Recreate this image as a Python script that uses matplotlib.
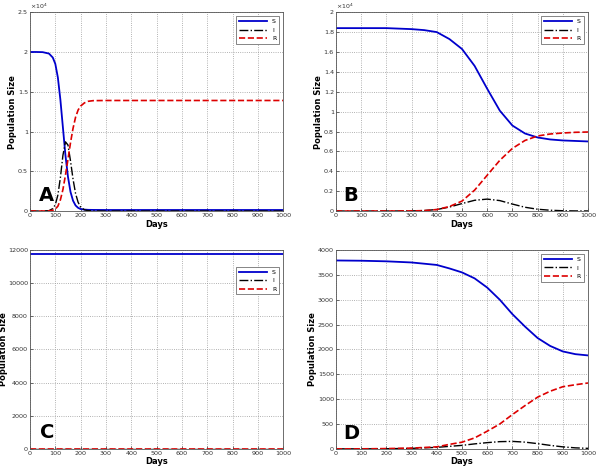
import matplotlib
matplotlib.use("Agg")
import matplotlib.pyplot as plt
from matplotlib.ticker import FuncFormatter, MultipleLocator

# panel A
days_a = [0, 25, 50, 75, 90, 100, 110, 120, 130, 140, 150, 160, 170, 180, 190, 200,
          215, 230, 250, 300, 400, 500, 600, 700, 800, 900, 1000]
s_a = [20000, 20000, 19980, 19800, 19300, 18500, 16800, 14000, 10500, 7000, 4300, 2400,
       1300, 700, 400, 250, 180, 150, 140, 130, 130, 130, 130, 130, 130, 130, 130]
i_a = [0, 0, 0, 50, 300, 800, 2000, 4200, 7000, 8700, 8300, 6300, 4000, 2200, 1100, 500,
       150, 50, 10, 0, 0, 0, 0, 0, 0, 0, 0]
r_a = [0, 0, 0, 20, 100, 250, 600, 1400, 2700, 4500, 6500, 8600, 10400, 11800, 12700,
       13200, 13600, 13800, 13880, 13900, 13900, 13900, 13900, 13900, 13900, 13900, 13900]

# panel B
days_b = [0, 100, 200, 300, 350, 400, 450, 500, 550, 600, 650, 700, 750, 800, 850, 900, 950, 1000]
s_b = [18400, 18400, 18400, 18300, 18200, 18000, 17300, 16300, 14600, 12300, 10100, 8600,
       7800, 7400, 7200, 7100, 7050, 7000]
i_b = [0, 0, 0, 10, 50, 150, 400, 750, 1080, 1200, 1050, 700, 380, 180, 80, 30, 10, 5]
r_b = [0, 0, 0, 10, 40, 150, 450, 1000, 2100, 3600, 5100, 6300, 7100, 7550, 7750, 7850, 7920, 7950]

# panel C
days_c = [0, 250, 500, 750, 1000]
s_c = [11750, 11750, 11750, 11750, 11750]
i_c = [0, 0, 0, 0, 0]
r_c = [0, 0, 0, 0, 0]

# panel D
days_d = [0, 100, 200, 300, 400, 450, 500, 550, 600, 650, 700, 750, 800, 850, 900, 950, 1000]
s_d = [3790, 3785, 3773, 3750, 3700, 3630, 3550, 3430, 3245, 3000, 2710, 2460, 2230, 2070,
       1960, 1905, 1880]
i_d = [0, 0, 2, 10, 30, 50, 70, 100, 125, 145, 150, 135, 105, 70, 40, 20, 10]
r_d = [0, 0, 5, 15, 40, 90, 134, 220, 355, 500, 690, 870, 1040, 1160, 1250, 1290, 1325]

panels = [
    ("A", days_a, s_a, i_a, r_a, 25000, 5000, True, (66, 2000), [0.05, 0.551, 0.422, 0.423], -0.051),
    ("B", days_b, s_b, i_b, r_b, 20000, 2000, True, (57, 1600), [0.56, 0.551, 0.42, 0.423], -0.052),
    ("C", days_c, s_c, i_c, r_c, 12000, 2000, False, (67, 960), [0.05, 0.045, 0.422, 0.423], -0.085),
    ("D", days_d, s_d, i_d, r_d, 4000, 500, False, (61, 300), [0.56, 0.045, 0.42, 0.423], -0.075),
]

fig = plt.figure(figsize=(6, 4.7), dpi=100)
for letter, days, s, i, r, ymax, ystep, sci, lpos, rect, ylab_x in panels:
    ax = fig.add_axes(rect)
    ax.plot(days, s, color="#0000cc", lw=1.3, label="S")
    ax.plot(days, i, color="black", lw=1.0, ls="-.", label="I")
    ax.plot(days, r, color="#dd0000", lw=1.2, ls="--", label="R")
    ax.set_xlim(0, 1000)
    ax.set_ylim(0, ymax)
    ax.xaxis.set_major_locator(MultipleLocator(100))
    ax.yaxis.set_major_locator(MultipleLocator(ystep))
    if sci:
        ax.yaxis.set_major_formatter(FuncFormatter(lambda v, p: f"{v / 1e4:g}"))
        ax.text(0.0, 1.005, r"$\times 10^4$", transform=ax.transAxes, fontsize=4.5,
                ha="left", va="bottom", color="#333333")
    ax.grid(True, ls=":", color="#999999", lw=0.6)
    ax.tick_params(direction="in", labelsize=4.6, length=2, width=0.5, pad=1.5,
                   colors="#333333")
    for sp in ax.spines.values():
        sp.set_linewidth(0.6)
        sp.set_color("#555555")
    ax.set_xlabel("Days", fontsize=6, fontweight="bold", labelpad=1)
    ax.set_ylabel("Population Size", fontsize=6, fontweight="bold")
    ax.yaxis.set_label_coords(ylab_x, 0.5)
    ax.text(lpos[0], lpos[1], letter, fontsize=14, fontweight="bold", ha="center", va="center")
    anchor = (0.995, 0.93) if letter == "C" else (0.995, 0.995)
    leg = ax.legend(loc="upper right", bbox_to_anchor=anchor, fontsize=4.5, handlelength=4.5,
                    borderpad=0.4, labelspacing=0.5, fancybox=False, framealpha=1,
                    edgecolor="#555555")
    leg.get_frame().set_linewidth(0.5)

fig.savefig("out.png")
